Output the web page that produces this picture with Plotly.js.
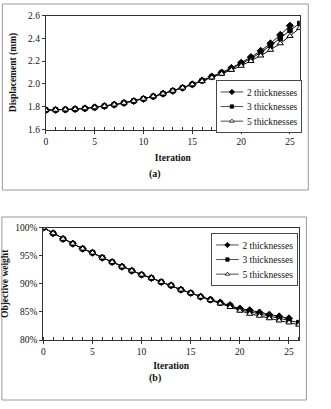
<!DOCTYPE html>
<html>
<head>
<meta charset="utf-8">
<script src="https://cdn.plot.ly/plotly-3.0.1.min.js"></script>
<style>
  html, body { margin: 0; padding: 0; background: #ffffff; }
  #chart { width: 331px; height: 409px; }
</style>
</head>
<body>
<div id="chart"></div>
<script>
// ---- Data ----
const seriesNames = ["2 thicknesses", "3 thicknesses", "5 thicknesses"];

const iterA2 = [0,1,2,3,4,5,6,7,8,9,10,11,12,13,14,15,16,17,18,19,20,21,22,23,24,25];
const iterA3 = [0,1,2,3,4,5,6,7,8,9,10,11,12,13,14,15,16,17,18,19,20,21,22,23,24,25,26];
const iterA5 = [0,1,2,3,4,5,6,7,8,9,10,11,12,13,14,15,16,17,18,19,20,21,22,23,24,25,26];

const disp2 = [1.770,1.772,1.775,1.779,1.785,1.794,1.805,1.818,1.833,1.850,1.869,1.890,1.914,1.939,1.966,1.996,2.030,2.065,2.100,2.140,2.185,2.235,2.290,2.355,2.430,2.510];
const disp3 = [1.770,1.772,1.775,1.779,1.785,1.794,1.805,1.818,1.833,1.850,1.869,1.890,1.914,1.939,1.966,1.996,2.028,2.062,2.095,2.133,2.175,2.222,2.275,2.335,2.400,2.470,2.530];
const disp5 = [1.770,1.772,1.775,1.779,1.785,1.794,1.805,1.818,1.833,1.850,1.869,1.890,1.914,1.939,1.966,1.995,2.025,2.055,2.088,2.122,2.158,2.200,2.248,2.298,2.355,2.420,2.490];

const weight2 = [1.000,0.990,0.980,0.9715,0.9626,0.9555,0.9466,0.9389,0.9306,0.9234,0.9163,0.9104,0.9033,0.8973,0.8896,0.8837,0.8772,0.8720,0.8668,0.8620,0.8560,0.8530,0.8490,0.8450,0.8420,0.8385];
const weight3 = [1.000,0.990,0.980,0.9715,0.9626,0.9555,0.9466,0.9389,0.9306,0.9234,0.9163,0.9104,0.9033,0.8973,0.8896,0.8837,0.8770,0.8715,0.8660,0.8610,0.8540,0.8500,0.8460,0.8420,0.8390,0.8345,0.8310];
const weight5 = [1.000,0.990,0.980,0.9715,0.9626,0.9555,0.9466,0.9389,0.9306,0.9234,0.9163,0.9104,0.9033,0.8973,0.8896,0.8837,0.8768,0.8710,0.8650,0.8585,0.8520,0.8465,0.8430,0.8385,0.8345,0.8310,0.8270];

const xTicks = [0,5,10,15,20,25];
const dispTicks = [1.6,1.8,2.0,2.2,2.4,2.6];
const weightTicks = [0.80,0.85,0.90,0.95,1.00];

// ---- Styles ----
const FONT = '"Liberation Serif", serif';
const markerStyles = [
  {symbol: "diamond", size: 5.5, color: "#000", line: {color: "#000", width: 1}},
  {symbol: "square", size: 4.5, color: "#000", line: {color: "#000", width: 1}},
  {symbol: "triangle-up", size: 5.5, color: "#fff", line: {color: "#000", width: 1}}
];

function mk(x, y, i, xa, ya, leg) {
  return {
    x: x, y: y, type: "scatter", mode: "lines+markers",
    name: seriesNames[i], xaxis: xa, yaxis: ya, legend: leg, showlegend: true,
    line: {color: "#111", width: 1},
    marker: markerStyles[i]
  };
}

const traces = [
  mk(iterA2, disp2, 0, "x", "y", "legend"),
  mk(iterA3, disp3, 1, "x", "y", "legend"),
  mk(iterA5, disp5, 2, "x", "y", "legend"),
  mk(iterA2, weight2, 0, "x2", "y2", "legend2"),
  mk(iterA3, weight3, 1, "x2", "y2", "legend2"),
  mk(iterA5, weight5, 2, "x2", "y2", "legend2")
];

const W = 331, H = 409;
const px = v => v / W;
const py = v => 1 - v / H;
const LEG_SCALE = 0.75;

const axBase = {
  showgrid: false, zeroline: false, showline: true, linecolor: "#333", linewidth: 1,
  mirror: true, ticks: "outside", ticklen: 3, tickcolor: "#333",
  tickfont: {family: FONT, size: 9.5, color: "#111"}
};
const titleFont = {family: FONT, size: 9.5, color: "#111", weight: "bold"};

const legBase = {
  font: {family: FONT, size: 9.5 / LEG_SCALE, color: "#111"},
  bgcolor: "#fff", bordercolor: "#333", borderwidth: 1.2,
  xanchor: "left", yanchor: "top", itemwidth: 30, tracegroupgap: 0
};

const layout = {
  width: W, height: H,
  margin: {l: 0, r: 0, t: 0, b: 0},
  paper_bgcolor: "#fff", plot_bgcolor: "#fff",
  xaxis: Object.assign({}, axBase, {
    domain: [px(48.3), px(316)], anchor: "y", range: [0, 26],
    tickvals: xTicks, minor: {dtick: 1, ticks: "inside", ticklen: 3, tickcolor: "#333"},
    title: {text: "Iteration", font: titleFont, standoff: 8}
  }),
  yaxis: Object.assign({}, axBase, {
    domain: [py(129.5), py(15.5)], anchor: "x", range: [1.6, 2.6],
    tickvals: dispTicks, tickformat: ".1f",
    title: {text: "Displacement (mm)", font: titleFont, standoff: 9}
  }),
  xaxis2: Object.assign({}, axBase, {
    domain: [px(45.7), px(315)], anchor: "y2", range: [0, 26],
    tickvals: xTicks, minor: {dtick: 1, ticks: "inside", ticklen: 3, tickcolor: "#333"},
    title: {text: "Iteration", font: titleFont, standoff: 5}
  }),
  yaxis2: Object.assign({}, axBase, {
    domain: [py(340), py(227.7)], anchor: "x2", range: [0.80, 1.00],
    tickvals: weightTicks, tickformat: ".0%",
    title: {text: "Objective weight", font: titleFont, standoff: 6}
  }),
  legend: Object.assign({}, legBase, {x: px(228), y: py(80)}),
  legend2: Object.assign({}, legBase, {x: px(223), y: py(233)}),
  annotations: [
    {text: "(a)", xref: "paper", yref: "paper", x: px(163), y: py(174), showarrow: false,
     font: {family: FONT, size: 10, color: "#111", weight: "bold"}},
    {text: "(b)", xref: "paper", yref: "paper", x: px(163), y: py(386), showarrow: false,
     font: {family: FONT, size: 10, color: "#111", weight: "bold"}}
  ],
  shapes: [
    {type: "rect", xref: "paper", yref: "paper", x0: px(2.5), x1: px(325), y0: py(190), y1: py(4),
     line: {color: "#999", width: 1}},
    {type: "rect", xref: "paper", yref: "paper", x0: px(2), x1: px(323), y0: py(400), y1: py(217),
     line: {color: "#999", width: 1}}
  ]
};

Plotly.newPlot("chart", traces, layout, {displayModeBar: false, staticPlot: true}).then(function (gd) {
  // shrink the native legends so that entries are as compact as in the reference
  gd.querySelectorAll(".infolayer > g").forEach(function (g) {
    const cls = g.getAttribute("class") || "";
    if (/^legend\d*$/.test(cls)) {
      const t = g.getAttribute("transform") || "";
      g.setAttribute("transform", t + " scale(" + LEG_SCALE + ")");
    }
  });
});
</script>
</body>
</html>
